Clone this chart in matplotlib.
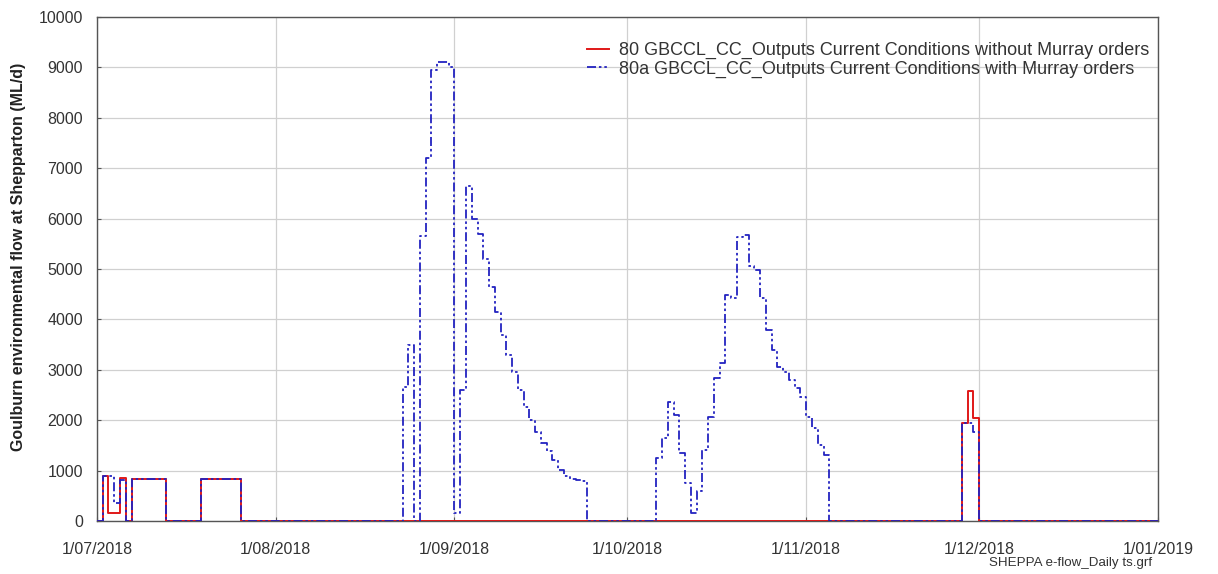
import datetime as dt
import numpy as np
import matplotlib
matplotlib.use("Agg")
import matplotlib.pyplot as plt
import matplotlib.dates as mdates
from matplotlib.ticker import FuncFormatter, MultipleLocator

plt.rcParams["font.family"] = ["Liberation Sans", "DejaVu Sans"]

# Period covered by the daily series
start_date = dt.date(2018, 7, 1)
end_date = dt.date(2019, 1, 1)

# Daily flow events (ML/d): (first day, daily values); all other days are zero
without_murray_events = [
    (dt.date(2018, 7, 2), [900, 160, 160, 850, 0, 840, 840, 840, 840, 840, 840]),
    (dt.date(2018, 7, 19), [840, 840, 840, 840, 840, 840, 840]),
    (dt.date(2018, 11, 28), [1940, 2570, 2040]),
]

with_murray_events = [
    (dt.date(2018, 7, 2), [900, 900, 350, 820, 0, 840, 840, 840, 840, 840, 840]),
    (dt.date(2018, 7, 19), [840, 840, 840, 840, 840, 840, 840]),
    (dt.date(2018, 8, 23), [2650, 3500, 0, 5650, 7200, 8950, 9100, 9100, 9000, 150,
                            2600, 6650, 6000, 5700, 5200, 4650, 4150, 3700, 3300, 2950,
                            2600, 2270, 2000, 1770, 1550, 1380, 1210, 1010, 900, 830,
                            810, 800]),
    (dt.date(2018, 10, 6), [1250, 1650, 2370, 2100, 1350, 750, 150, 600, 1400, 2070,
                            2830, 3130, 4490, 4430, 5640, 5670, 5050, 4980, 4430, 3790,
                            3390, 3060, 2960, 2800, 2640, 2470, 2070, 1850, 1510, 1310]),
    (dt.date(2018, 11, 28), [1940, 1940, 1770]),
]

series_labels = [
    "80 GBCCL_CC_Outputs Current Conditions without Murray orders",
    "80a GBCCL_CC_Outputs Current Conditions with Murray orders",
]
y_label = "Goulburn environmental flow at Shepparton (ML/d)"
file_note = "SHEPPA e-flow_Daily ts.grf"


def daily_series(events):
    n_days = (end_date - start_date).days + 1
    dates = [start_date + dt.timedelta(days=i) for i in range(n_days)]
    values = np.zeros(n_days)
    for first, vals in events:
        i0 = (first - start_date).days
        values[i0:i0 + len(vals)] = vals
    return dates, values


fig = plt.figure(figsize=(12.18, 5.74), dpi=100)
ax = fig.add_axes([0.0796, 0.0923, 0.8711, 0.8781])

d_red, v_red = daily_series(without_murray_events)
d_blue, v_blue = daily_series(with_murray_events)

ax.step(d_red, v_red, where="post", color="#e01818", lw=1.4,
        label=series_labels[0], zorder=3)
ax.step(d_blue, v_blue, where="post", color="#2323c0", lw=1.3,
        dashes=(5, 1.6, 1.4, 1.6, 1.4, 1.6), label=series_labels[1], zorder=4)

ax.set_xlim(start_date, end_date)
ax.set_ylim(0, 10000)
ax.yaxis.set_major_locator(MultipleLocator(1000))
ax.xaxis.set_major_locator(mdates.MonthLocator())
ax.xaxis.set_major_formatter(FuncFormatter(
    lambda x, pos: (lambda d: f"{d.day}/{d.month:02d}/{d.year}")(mdates.num2date(x))))

ax.grid(True, color="#d0d0d0", lw=0.9)
ax.set_axisbelow(True)
for sp in ax.spines.values():
    sp.set_color("#555555")
    sp.set_linewidth(1.0)

ax.tick_params(axis="both", direction="in", length=3, color="#555555",
               labelsize=11.5, labelcolor="#333333")
ax.tick_params(axis="x", pad=15)
ax.tick_params(axis="y", pad=10)

ax.set_ylabel(y_label, fontsize=11.5, fontweight="bold", color="#222222")
ax.yaxis.set_label_coords(-0.067, 0.524)

leg = ax.legend(loc="upper right", bbox_to_anchor=(0.9985, 0.965), frameon=False,
                fontsize=13, handlelength=1.2, handletextpad=0.55,
                labelspacing=0.08, borderaxespad=0.0)
for t in leg.get_texts():
    t.set_color("#333333")

fig.text(1152 / 1218, 1 - 563 / 574, file_note, ha="right", va="center",
         fontsize=9.6, color="#333333")

fig.savefig("out.png", dpi=100)
